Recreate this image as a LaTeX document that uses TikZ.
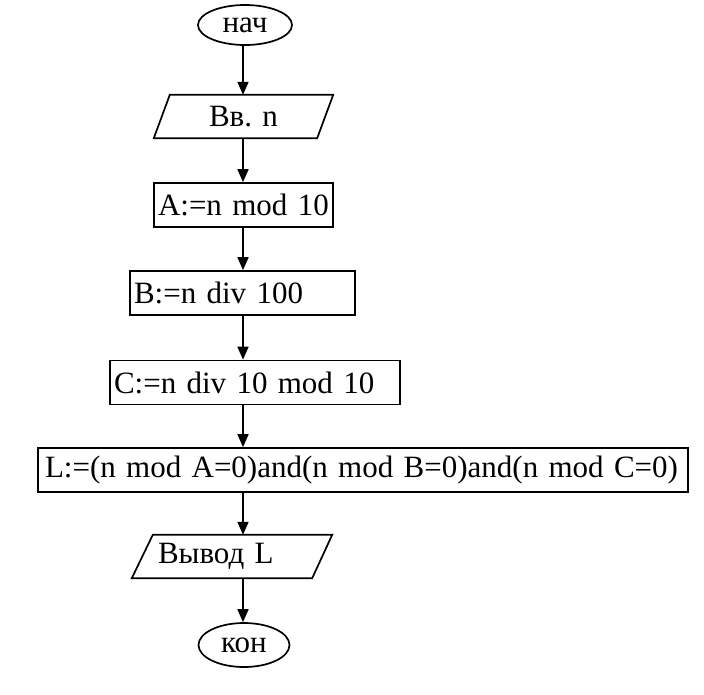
\documentclass[tikz,border=0pt]{standalone}
\usepackage{fontspec}
\setmainfont{Liberation Serif}
\usetikzlibrary{shapes.geometric,arrows.meta}
\begin{document}
\begin{tikzpicture}[x=1pt,y=-1pt,
  every node/.style={font=\fontsize{31}{33}\selectfont},
  ln/.style={line width=1.7pt},
  term/.style={ellipse,draw,ln,inner sep=0pt},
  proc/.style={rectangle,draw,ln,minimum height=44pt,inner xsep=4pt,inner ysep=0pt,align=left},
  io/.style={rectangle,draw=none,minimum height=43pt,inner sep=0pt},
  arr/.style={ln,-{Triangle[length=13pt,width=11pt]}}]
\useasboundingbox (0,0) rectangle (704,694);
\coordinate (axis) at (243,0);
\node[term,minimum width=94pt,minimum height=40pt] (start) at (245,25) {нач};
\node[io,minimum width=179pt] (in) at (243.5,116.5) {Вв. n};
\draw[ln] ([xshift=16pt]in.north west) -- (in.north east) -- ([xshift=-16pt]in.south east) -- (in.south west) -- cycle;
\node[proc,text width=171pt] (a) at (243.5,205) {A:=n mod 10};
\node[proc,text width=217pt] (b) at (242.5,293) {B:=n div 100};
\node[proc,text width=282pt] (c) at (255,382.5) {C:=n div 10 mod 10};
\node[proc,text width=642pt] (l) at (363,470) {\hspace*{3pt}L:=(n mod A=0)and(n mod B=0)and(n mod C=0)};
\node[io,minimum width=200pt,text width=148pt,align=left] (out) at (232,556.5) {Вывод L};
\draw[ln] ([xshift=21pt]out.north west) -- (out.north east) -- ([xshift=-20pt]out.south east) -- (out.south west) -- cycle;
\node[term,minimum width=91pt,minimum height=44pt] (end) at (244,645) {кон};
\draw[arr] (start.south -| axis) -- (in.north -| axis);
\draw[arr] (in.south -| axis) -- (a.north -| axis);
\draw[arr] (a.south -| axis) -- (b.north -| axis);
\draw[arr] (b.south -| axis) -- (c.north -| axis);
\draw[arr] (c.south -| axis) -- (l.north -| axis);
\draw[arr] (l.south -| axis) -- (out.north -| axis);
\draw[arr] (out.south -| axis) -- (end.north -| axis);
\end{tikzpicture}
\end{document}
